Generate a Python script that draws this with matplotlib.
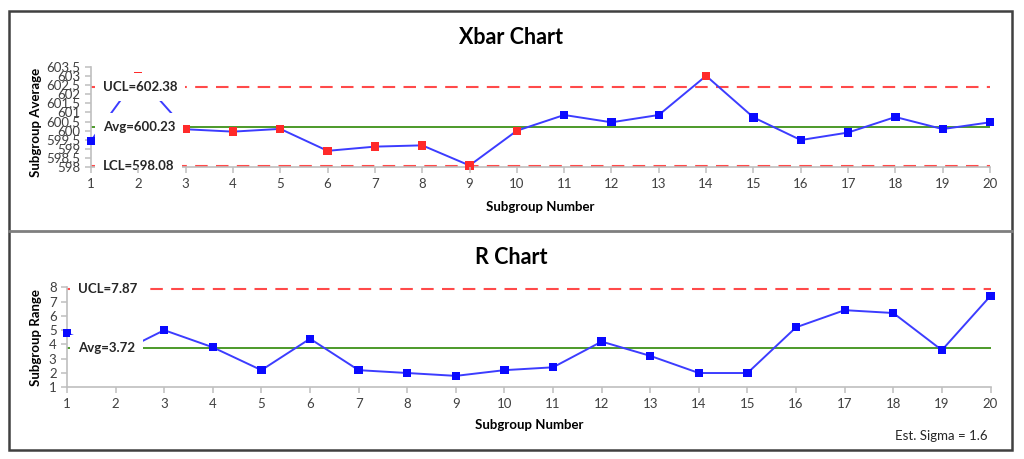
import numpy as np
import matplotlib
matplotlib.use("Agg")
import matplotlib.pyplot as plt
from matplotlib.patches import Rectangle
from matplotlib.lines import Line2D

plt.rcParams['font.family'] = ['Lato', 'DejaVu Sans']

# subgroup data (n = 5)
subgroups = list(range(1, 21))
xbar = [599.45, 603.0, 600.08, 599.95, 600.1, 598.9, 599.13, 599.2, 598.1, 600.0,
        600.86, 600.46, 600.86, 603.0, 600.73, 599.49, 599.9, 600.75, 600.09, 600.46]
xbar_flag = [0, 1, 1, 1, 1, 1, 1, 1, 1, 1, 0, 0, 0, 1, 0, 0, 0, 0, 0, 0]
ranges = [4.8, 3.3, 5.0, 3.8, 2.2, 4.4, 2.2, 2.0, 1.8, 2.2,
          2.4, 4.2, 3.2, 2.0, 2.0, 5.2, 6.4, 6.2, 3.6, 7.4]
r_flag = [0] * 20

xbar_ucl, xbar_avg, xbar_lcl = 602.38, 600.23, 598.08
r_ucl, r_avg = 7.87, 3.72
est_sigma = 1.6

BLUE = '#0a0aff'
LINE = '#3c3cff'
RED = '#ff2a2a'
LIMIT = '#ff4a4a'
GREEN = '#4c9a2a'
GRID = '#bfbfbf'
TXT = '#404040'

W, H = 1024, 459
fig = plt.figure(figsize=(W / 100, H / 100), dpi=100)


def px_axes(x0, x1, ytop, ybot):
    return fig.add_axes([x0 / W, 1 - ybot / H, (x1 - x0) / W, (ybot - ytop) / H])


def style(ax):
    for s in ('top', 'right'):
        ax.spines[s].set_visible(False)
    for s in ('left', 'bottom'):
        ax.spines[s].set_color(GRID)
        ax.spines[s].set_linewidth(1.2)
    ax.tick_params(colors=GRID, labelcolor=TXT, labelsize=9.5, length=4, width=1.1)
    ax.set_xticks(subgroups)
    ax.set_xlim(1, 20)
    ax.xaxis.set_zorder(7)  # keep tick labels above the label boxes


def draw_series(ax, vals, flags):
    ax.plot(subgroups, vals, color=LINE, lw=1.4, zorder=3, clip_on=False)
    cols = [RED if f else BLUE for f in flags]
    ax.scatter(subgroups, vals, marker='s', s=36, c=cols, zorder=4, clip_on=False,
               linewidths=0)


def limit_label(ax, y, text, dx):
    # white box like the spreadsheet data labels, hides what is behind it
    ax.annotate(text, xy=(1, y), xytext=(dx, 0), textcoords='offset pixels',
                ha='left', va='center', fontsize=9.5, fontweight='bold', color='#262626',
                zorder=6, bbox=dict(boxstyle='square,pad=0.6', fc='white', ec='none'))


# ---- Xbar chart ----
ax1 = px_axes(91, 990, 66.7, 167.3)
style(ax1)
ax1.set_ylim(598, 603.5)
yt = np.arange(598, 603.51, 0.5)
ax1.set_yticks(yt)
ax1.set_yticklabels([f'{v:g}' for v in yt])
ax1.axhline(xbar_ucl, color=LIMIT, lw=1.5, ls=(0, (6, 4)), zorder=2)
ax1.axhline(xbar_lcl, color=LIMIT, lw=1.5, ls=(0, (6, 4)), zorder=2)
ax1.axhline(xbar_avg, color=GREEN, lw=1.4, zorder=2)
draw_series(ax1, xbar, xbar_flag)
limit_label(ax1, xbar_ucl, f'UCL={xbar_ucl:.2f}', 12)
limit_label(ax1, xbar_avg, f'Avg={xbar_avg:.2f}', 12)
limit_label(ax1, xbar_lcl, f'LCL={xbar_lcl:.2f}', 12)
ax1.text(0.5, -0.395, 'Subgroup Number', transform=ax1.transAxes, ha='center',
         va='center', fontsize=9.5, fontweight='bold')
ax1.text(-0.0612, 0.45, 'Subgroup Average', transform=ax1.transAxes, ha='center',
         va='center', rotation=90, fontsize=9.5, fontweight='bold')

# ---- R chart ----
ax2 = px_axes(67, 990.5, 287.3, 387.3)
style(ax2)
ax2.set_ylim(1, 8)
ax2.set_yticks(range(1, 9))
ax2.axhline(r_ucl, color=LIMIT, lw=1.5, ls=(0, (6, 4)), zorder=2)
ax2.axhline(r_avg, color=GREEN, lw=1.4, zorder=2)
draw_series(ax2, ranges, r_flag)
limit_label(ax2, r_ucl, f'UCL={r_ucl:.2f}', 11)
limit_label(ax2, r_avg, f'Avg={r_avg:.2f}', 11)
ax2.text(0.5, -0.38, 'Subgroup Number', transform=ax2.transAxes, ha='center',
         va='center', fontsize=9.5, fontweight='bold')
ax2.text(-0.0336, 0.5, 'Subgroup Range', transform=ax2.transAxes, ha='center',
         va='center', rotation=90, fontsize=9.5, fontweight='bold')

# titles, note, frame
fig.text(511 / W, 1 - 37 / H, 'Xbar Chart', ha='center', va='center',
         fontsize=15.5, fontweight='bold')
fig.text(511 / W, 1 - 257 / H, 'R Chart', ha='center', va='center',
         fontsize=15.5, fontweight='bold')
fig.text(988 / W, 1 - 436 / H, f'Est. Sigma = {est_sigma}', ha='right', va='center',
         fontsize=9.5, color='#262626')

fig.patches.append(Rectangle((9 / W, 1 - 450 / H), (1012 - 9) / W, (450 - 11) / H,
                             transform=fig.transFigure, fill=False, ec='#404040', lw=1.8))
fig.lines.append(Line2D([9 / W, 1012 / W], [1 - 231 / H, 1 - 231 / H],
                        transform=fig.transFigure, color='#7f7f7f', lw=2))

fig.savefig('out.png', dpi=100)
